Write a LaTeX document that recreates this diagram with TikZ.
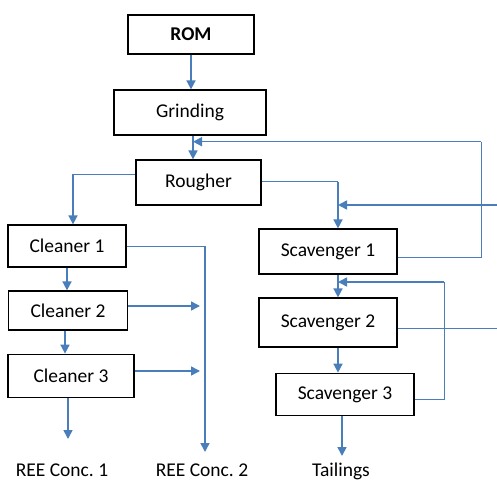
\documentclass[tikz,border=0pt]{standalone}
\usepackage{fontspec}
\setmainfont{Carlito}
\usetikzlibrary{arrows.meta,calc}
\definecolor{flow}{HTML}{4A7EBB}
\frenchspacing
\begin{document}
\begin{tikzpicture}[x=1pt,y=-1pt,
  txt/.style={font=\fontsize{19.5}{21}\selectfont},
  box/.style={txt,draw=black,line width=1.2pt,inner sep=0pt},
  thinline/.style={draw=flow,line width=0.9pt},
  arr/.style={draw=flow,line width=1.6pt,-{Triangle[length=9pt,width=9pt]}}]
\useasboundingbox (0,0) rectangle (497,481);
% boxes
\node[box,minimum width=126pt,minimum height=39pt,font=\fontsize{19.5}{21}\selectfont\bfseries] (rom) at (191,34.5) {ROM};
\node[box,minimum width=152pt,minimum height=45pt] (grind) at (190,112.5) {Grinding};
\node[box,minimum width=125pt,minimum height=45pt] (rough) at (198.5,182.5) {Rougher};
\node[box,minimum width=118pt,minimum height=42pt] (cl1) at (67,246) {Cleaner 1};
\node[box,minimum width=119pt,minimum height=39pt] (cl2) at (68,310.5) {Cleaner 2};
\node[box,minimum width=126pt,minimum height=43.5pt] (cl3) at (71,376) {Cleaner 3};
\node[box,minimum width=138pt,minimum height=45pt] (sc1) at (328,251.5) {Scavenger 1};
\node[box,minimum width=138pt,minimum height=49pt] (sc2) at (328,322.5) {Scavenger 2};
\node[box,minimum width=138pt,minimum height=42.5pt] (sc3) at (345,394.5) {Scavenger 3};
% outputs
\node[txt,anchor=base,inner sep=0pt] (ree1) at (62,476) {REE Conc. 1};
\node[txt,anchor=base,inner sep=0pt] (ree2) at (202,476) {REE Conc. 2};
\node[txt,anchor=base,inner sep=0pt] (tail) at (341,476) {Tailings};
% bend points
\coordinate (r1) at (481,257.5);
\coordinate (r2) at (481,141.7);
\coordinate (g1) at (193,141.7);
\coordinate (c1) at (73,174);
\coordinate (s1) at (338,181.7);
\coordinate (e1) at (497,205);
\coordinate (r3) at (444,399);
\coordinate (r4) at (444,282);
\coordinate (e2) at (497,328.3);
\coordinate (t1) at (342,456);
\coordinate (k1) at (205,246);
\coordinate (k2) at (205,452);
\coordinate (k3) at (200,306);
\coordinate (k4) at (200,371);
\coordinate (k5) at (68,439);
% main line
\draw[arr] (rom.south) -- (rom.south |- grind.north);
\draw[arr] (g1 |- grind.south) -- (g1 |- rough.north);
% scavenger 1 recycle to grinding
\draw[thinline] (sc1.east |- r1) -- (r1) -- (r2);
\draw[arr] (r2) -- (g1);
% rougher to cleaner 1
\draw[thinline] (rough.west |- c1) -- (c1);
\draw[arr] (c1) -- (c1 |- cl1.north);
% rougher to scavenger 1
\draw[thinline] (rough.east |- s1) -- (s1);
\draw[arr] (s1) -- (s1 |- sc1.north);
\draw[arr] (e1) -- (e1 -| s1);
% scavengers
\draw[arr] (s1 |- sc1.south) -- (s1 |- sc2.north);
\draw[thinline] (sc3.east |- r3) -- (r3) -- (r4);
\draw[arr] (r4) -- (r4 -| s1);
\draw[thinline] (sc2.east |- e2) -- (e2);
\draw[arr] (s1 |- sc2.south) -- (s1 |- sc3.north);
\draw[arr] (t1 |- sc3.south) -- (t1);
% cleaners
\draw[thinline] (cl1.east |- k1) -- (k1);
\draw[arr] (k1) -- (k2);
\draw[arr] (cl1.south) -- (cl1.south |- cl2.north);
\draw[arr] ([xshift=-3pt]cl2.south) -- ([xshift=-3pt]cl2.south |- cl3.north);
\draw[arr] (cl2.east |- k3) -- (k3);
\draw[arr] (cl3.east |- k4) -- (k4);
\draw[arr] (k5 |- cl3.south) -- (k5);
\end{tikzpicture}
\end{document}
